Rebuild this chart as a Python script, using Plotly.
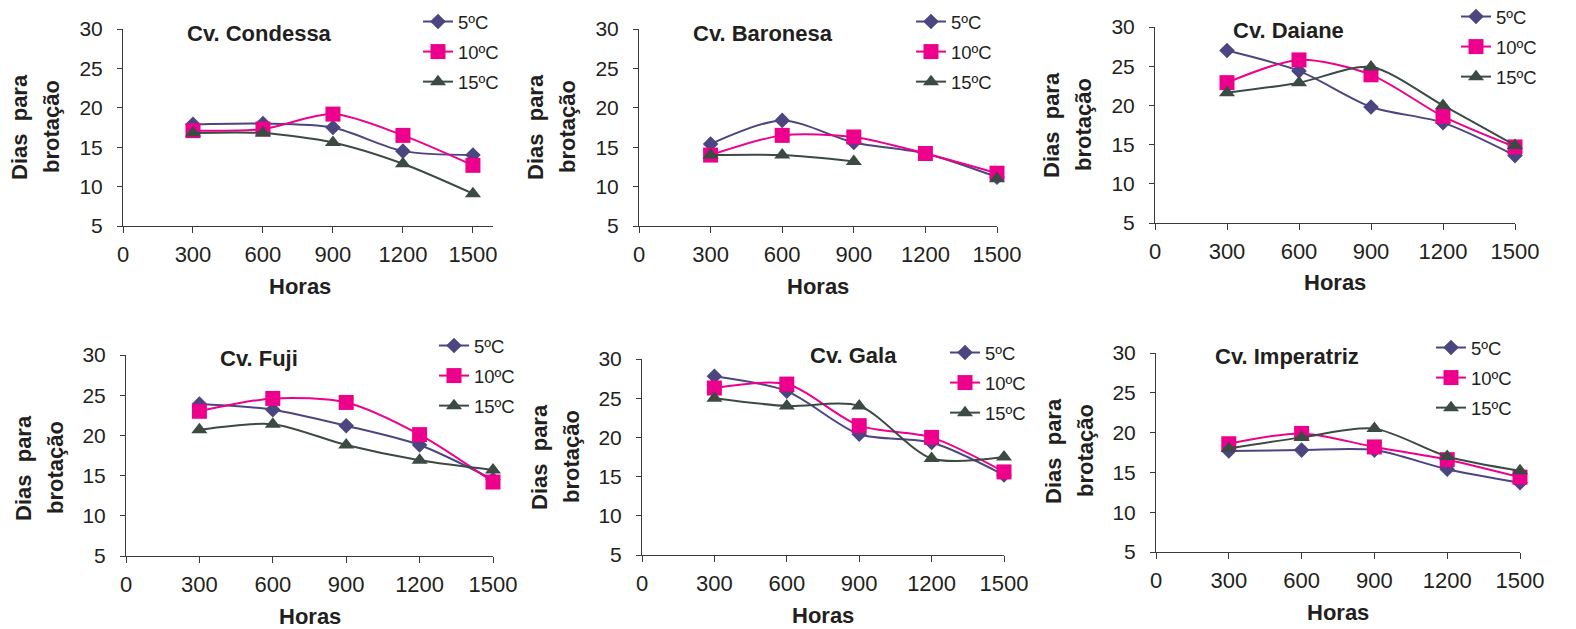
import plotly.graph_objects as go

# ---------------- data ----------------
hours = [300, 600, 900, 1200, 1500]
series_names = ["5ºC", "10ºC", "15ºC"]
cultivars = ["Cv. Condessa", "Cv. Baronesa", "Cv. Daiane", "Cv. Fuji", "Cv. Gala", "Cv. Imperatriz"]

condessa_5 = [17.9, 18.0, 17.5, 14.5, 14.0]
condessa_10 = [17.1, 17.3, 19.2, 16.5, 12.7]
condessa_15 = [16.8, 16.8, 15.6, 12.9, 9.1]

baronesa_5 = [15.4, 18.4, 15.6, 14.2, 11.2]
baronesa_10 = [14.0, 16.5, 16.3, 14.2, 11.7]
baronesa_15 = [14.0, 14.0, 13.2, None, 11.0]

daiane_5 = [27.0, 24.4, 19.8, 17.8, 13.6]
daiane_10 = [22.9, 25.8, 23.9, 18.6, 14.7]
daiane_15 = [21.6, 22.9, 24.9, 20.0, 14.9]

fuji_5 = [23.9, 23.2, 21.2, 18.8, 14.5]
fuji_10 = [23.0, 24.6, 24.1, 20.1, 14.2]
fuji_15 = [20.7, 21.4, 18.8, 16.9, 15.7]

gala_5 = [27.8, 25.9, 20.4, 19.35, 15.2]
gala_10 = [26.3, 26.8, 21.5, 20.0, 15.6]
gala_15 = [25.0, 24.0, 24.0, 17.3, 17.5]

imperatriz_5 = [17.7, 17.8, 17.8, 15.4, 13.7]
imperatriz_10 = [18.6, 19.9, 18.2, 16.6, 14.4]
imperatriz_15 = [18.0, 19.4, 20.5, 17.0, 15.2]

panel_values = [
    [condessa_5, condessa_10, condessa_15],
    [baronesa_5, baronesa_10, baronesa_15],
    [daiane_5, daiane_10, daiane_15],
    [fuji_5, fuji_10, fuji_15],
    [gala_5, gala_10, gala_15],
    [imperatriz_5, imperatriz_10, imperatriz_15],
]
x_ticks = [0, 300, 600, 900, 1200, 1500]
y_ticks = [5, 10, 15, 20, 25, 30]

# ---------------- styling / layout ----------------
W, H = 1576, 629
FONT = "Liberation Sans, Arial, sans-serif"
TXT = "#231F20"
colors = ["#4B4580", "#EC008C", "#3C4A44"]
symbols = ["diamond", "square", "triangle-up"]
msizes = [12, 15, 14]


def PX(x):
    return x / W


def PY(y):
    return 1 - y / H


# per panel: x-axis pixel left, right, x range max, y top (30), y bottom (5)
panels = [
    dict(xl=123, xr=493, xmax=1586, yt=29, yb=226, title=(259, 33), ytc=127, leg=(418, 3)),
    dict(xl=639, xr=997, xmax=1500, yt=29, yb=226, title=(763, 33), ytc=127, leg=(911, 3)),
    dict(xl=1155, xr=1515, xmax=1500, yt=27, yb=223, title=(1288, 31), ytc=125, leg=(1456, -2)),
    dict(xl=126, xr=493, xmax=1500, yt=355, yb=556, title=(259, 358), ytc=468, leg=(434, 327)),
    dict(xl=642, xr=1004, xmax=1500, yt=359, yb=555, title=(853, 355), ytc=457, leg=(945, 334)),
    dict(xl=1156, xr=1520, xmax=1500, yt=353, yb=552, title=(1287, 356), ytc=451, leg=(1431, 329)),
]

fig = go.Figure()
annotations = []
layout = dict(
    width=W, height=H, autosize=False,
    margin=dict(l=0, r=0, t=0, b=0, pad=0, autoexpand=False),
    paper_bgcolor="white", plot_bgcolor="white",
    font=dict(family=FONT, color=TXT),
)

for i, p in enumerate(panels):
    k = i + 1
    suffix = "" if k == 1 else str(k)
    legname = "legend" if k == 1 else f"legend{k}"
    for s in range(3):
        fig.add_trace(go.Scatter(
            x=hours, y=panel_values[i][s],
            name=series_names[s],
            mode="lines+markers",
            line=dict(color=colors[s], width=2, shape="spline", smoothing=0.8),
            marker=dict(symbol=symbols[s], size=msizes[s], color=colors[s],
                        line=dict(width=0)),
            cliponaxis=False,
            connectgaps=False,
            xaxis="x" + suffix, yaxis="y" + suffix,
            legend=legname,
            legendgroup=f"p{k}s{s}",
            showlegend=True,
        ))
    layout["xaxis" + suffix] = dict(
        domain=[PX(p["xl"]), PX(p["xr"])],
        range=[0, p["xmax"]],
        anchor="y" + suffix,
        tickvals=x_ticks, ticktext=[str(v) for v in x_ticks],
        showline=True, linecolor="#3a3a3a", linewidth=1,
        ticks="outside", ticklen=6, tickcolor="#3a3a3a",
        showgrid=False, zeroline=False,
        tickfont=dict(size=22, color=TXT, family=FONT),
        ticklabelstandoff=3,
        automargin=False,
        fixedrange=True,
    )
    layout["yaxis" + suffix] = dict(
        domain=[PY(p["yb"]), PY(p["yt"])],
        range=[5, 30],
        anchor="x" + suffix,
        tickvals=y_ticks,
        showline=True, linecolor="#3a3a3a", linewidth=1,
        ticks="outside", ticklen=5, tickcolor="#3a3a3a",
        showgrid=False, zeroline=False,
        tickfont=dict(size=21, color=TXT, family=FONT),
        ticklabelstandoff=10,
        automargin=False,
        fixedrange=True,
    )
    layout[legname] = dict(
        x=PX(p["leg"][0]), y=PY(p["leg"][1]),
        xanchor="left", yanchor="top",
        bgcolor="rgba(0,0,0,0)", borderwidth=0,
        font=dict(size=18.5, color=TXT, family=FONT),
        tracegroupgap=3,
    )
    # panel title
    annotations.append(dict(
        text="<b>%s</b>" % cultivars[i], x=PX(p["title"][0]), y=PY(p["title"][1]),
        xref="paper", yref="paper", showarrow=False,
        xanchor="center", yanchor="middle",
        font=dict(size=22, color=TXT, family=FONT),
    ))
    # x-axis title
    annotations.append(dict(
        text="<b>Horas</b>", x=PX((p["xl"] + p["xr"]) / 2 - 8 if k == 1 else (p["xl"] + p["xr"]) / 2),
        y=PY(p["yb"] + 60),
        xref="paper", yref="paper", showarrow=False,
        xanchor="center", yanchor="middle",
        font=dict(size=22, color=TXT, family=FONT),
    ))
    # y-axis title, two lines
    for txt, off in (("Dias  para", 103), ("brotação", 71)):
        annotations.append(dict(
            text="<b>%s</b>" % txt, x=PX(p["xl"] - off), y=PY(p["ytc"]),
            xref="paper", yref="paper", showarrow=False, textangle=-90,
            xanchor="center", yanchor="middle",
            font=dict(size=22, color=TXT, family=FONT),
        ))

layout["annotations"] = annotations
fig.update_layout(**layout)
fig.write_html(
    "out.html",
    config={"displayModeBar": False, "staticPlot": False},
    post_script="document.body.style.margin='0';document.body.style.overflow='hidden';",
)
